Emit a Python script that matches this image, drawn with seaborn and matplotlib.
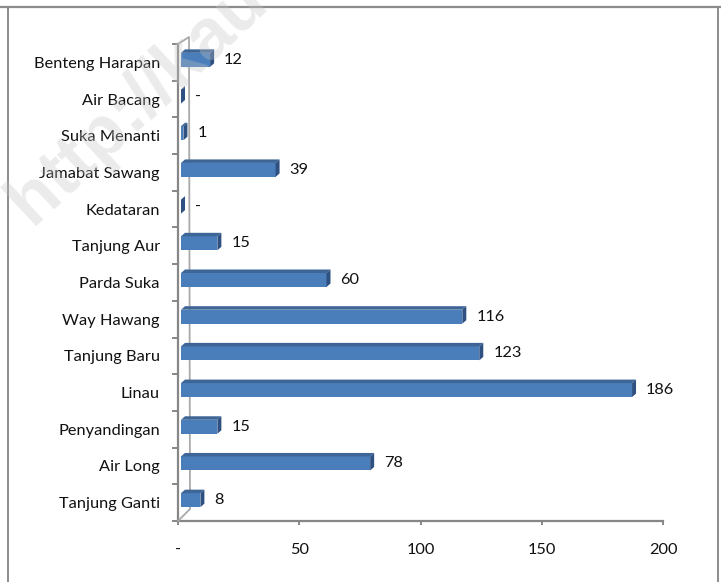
import numpy as np
import pandas as pd
import matplotlib
matplotlib.use("Agg")
import matplotlib.pyplot as plt
import seaborn as sns
from matplotlib.patches import Polygon
from matplotlib.lines import Line2D
from matplotlib.transforms import ScaledTranslation

# Data: number per village (desa), top to bottom
desa = ["Benteng Harapan", "Air Bacang", "Suka Menanti", "Jamabat Sawang",
        "Kedataran", "Tanjung Aur", "Parda Suka", "Way Hawang",
        "Tanjung Baru", "Linau", "Penyandingan", "Air Long", "Tanjung Ganti"]
jumlah = [12, 0, 1, 39, 0, 15, 60, 116, 123, 186, 15, 78, 8]
x_ticks = [0, 50, 100, 150, 200]
x_tick_labels = ["-", "50", "100", "150", "200"]

W, H, DPI = 721, 582, 100
FRONT, TOP, SIDE = "#4a7ebb", "#3d6596", "#2e5182"
AXIS_GREY = "#878787"
FS = 11.8

sns.set_theme(style="white")
plt.rcParams["font.family"] = ["Lato", "DejaVu Sans"]

fig = plt.figure(figsize=(W / DPI, H / DPI), dpi=DPI)
fig.patch.set_facecolor("white")

# plot box in pixels
L, R, T, B = 178, 663, 44, 521
ax = fig.add_axes([L / W, 1 - B / H, (R - L) / W, (B - T) / H])
ax.set_facecolor("none")

n = len(desa)
px_x = (R - L) / 200.0          # pixels per data unit
px_y = (B - T) / n              # pixels per category

df = pd.DataFrame({"desa": desa, "jumlah": jumlah})
sns.barplot(data=df, x="jumlah", y="desa", orient="h", color=FRONT,
            saturation=1, width=14 / px_y, linewidth=0, ax=ax)
ax.set_xlim(0, 200)
ax.set_ylim(n - 0.5, -0.5)

# 3D look: shift the front faces a bit and add top and side faces
shift = ax.transData + ScaledTranslation(3 / DPI, 2.5 / DPI, fig.dpi_scale_trans)
ddx, ddy = 4 / px_x, 3.5 / px_y
for p in ax.patches:
    p.set_transform(shift)
    p.set_zorder(3)
    x0, y0 = p.get_x(), p.get_y()
    x1, y1 = x0 + p.get_width(), y0 + p.get_height()
    top = Polygon([(x0, y0), (x1, y0), (x1 + ddx, y0 - ddy), (x0 + ddx, y0 - ddy)],
                  closed=True, facecolor=TOP, edgecolor="none", transform=shift,
                  zorder=3, clip_on=False)
    side = Polygon([(x1, y0), (x1, y1), (x1 + ddx, y1 - ddy), (x1 + ddx, y0 - ddy)],
                   closed=True, facecolor=SIDE, edgecolor="none", transform=shift,
                   zorder=3, clip_on=False)
    ax.add_patch(top)
    ax.add_patch(side)

# value labels
for i, v in enumerate(jumlah):
    ax.annotate("-" if v == 0 else str(v), xy=(v, i),
                xytext=(17 * 0.72, 2.5 * 0.72), textcoords="offset points",
                ha="left", va="center", fontsize=FS, color="#111111",
                annotation_clip=False)

# back wall edge of the 3D plot area
bx_top, by_top = 11 / px_x, -0.5 - 7 / px_y
bx_bot, by_bot = 12 / px_x, n - 0.5 - 12 / px_y
ax.plot([0, bx_top, bx_bot, 0], [-0.5, by_top, by_bot, n - 0.5],
        color="#a9a9a9", lw=1.3, clip_on=False, zorder=1)

# axes styling
for s in ["top", "right"]:
    ax.spines[s].set_visible(False)
for s in ["left", "bottom"]:
    ax.spines[s].set_color(AXIS_GREY)
    ax.spines[s].set_linewidth(1.6)
    ax.spines[s].set_zorder(0.5)

ax.set_xticks(x_ticks)
ax.set_xticklabels(x_tick_labels)
ax.tick_params(axis="x", direction="out", length=3.2, width=1.4, color=AXIS_GREY,
               pad=12.5, labelsize=FS, labelcolor="#111111", bottom=True)
ax.set_yticks(range(n))
ax.set_yticklabels(desa)
ax.set_yticks(np.arange(-0.5, n, 1), minor=True)
ax.tick_params(axis="y", which="major", length=0, pad=13, labelsize=FS,
               labelcolor="#111111", left=True)
ax.tick_params(axis="y", which="minor", direction="out", length=4.5, width=1.4,
               color=AXIS_GREY, left=True)
ax.set_xlabel("")
ax.set_ylabel("")
ax.grid(False)

# outer frame
fig.add_artist(Line2D([0, 1], [1 - 6.5 / H] * 2, transform=fig.transFigure,
                      color="#8c8c8c", lw=1.6))
fig.add_artist(Line2D([7.5 / W] * 2, [0, 1 - 6.5 / H], transform=fig.transFigure,
                      color="#8c8c8c", lw=1.4))
fig.add_artist(Line2D([718 / W] * 2, [0, 1 - 6.5 / H], transform=fig.transFigure,
                      color="#8c8c8c", lw=1.4))

# watermark
fig.text(32 / W, 1 - 226 / H, "http://kau", rotation=43, rotation_mode="anchor",
         ha="left", va="baseline", fontsize=52, fontweight="bold",
         family=["Liberation Sans", "DejaVu Sans"], color="#c4c4c4", alpha=0.33,
         zorder=10)

fig.savefig("out.png", dpi=DPI)
